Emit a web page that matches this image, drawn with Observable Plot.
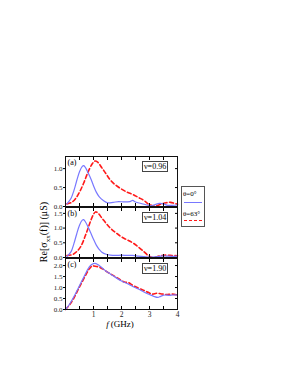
<!DOCTYPE html>
<html><head><meta charset="utf-8">
<script src="https://cdn.jsdelivr.net/npm/d3@7"></script>
<script src="https://cdn.jsdelivr.net/npm/@observablehq/plot@0.6"></script>
<style>
body{margin:0;background:#fff;}
#chart{position:relative;width:283px;height:366px;font-family:"Liberation Serif",serif;color:#000;overflow:hidden;}
#chart svg{position:absolute;overflow:visible;}
.nu{position:absolute;border:1px solid #444;background:#fff;font-size:8px;line-height:9px;padding:0 1px;white-space:nowrap;}
.leg{position:absolute;border:1px solid #555;background:#fff;font-size:7px;line-height:7px;}
.ylab{position:absolute;white-space:nowrap;font-size:10px;transform:translate(-50%,-50%) rotate(-90deg);}
.xlab{position:absolute;white-space:nowrap;font-size:9px;transform:translate(-50%,-50%);}
</style></head>
<body><div id="chart"></div>
<script>
// Panel (a) nu=0.96
const fA0 = [0.05,0.2,0.3,0.4,0.5,0.6,0.65,0.72,0.8,0.9,1.0,1.1,1.2,1.35,1.5,1.7,1.9,2.1,2.3,2.4,2.5,2.7,2.9,3.05,3.2,3.35,3.5,3.65,3.8,4.0];
const vA0 = [0.07,0.22,0.42,0.68,0.92,1.06,1.08,1.02,0.9,0.74,0.55,0.38,0.26,0.16,0.1,0.11,0.13,0.12,0.13,0.16,0.12,0.08,0.04,0.02,0.05,0.08,0.07,0.03,0.03,0.04];
const fA63 = [0.05,0.2,0.35,0.5,0.65,0.8,0.95,1.05,1.15,1.3,1.45,1.6,1.8,2.0,2.2,2.4,2.6,2.8,2.95,3.1,3.25,3.4,3.6,3.75,3.9,4.0];
const vA63 = [0.07,0.1,0.2,0.38,0.62,0.9,1.12,1.2,1.17,1.02,0.86,0.7,0.56,0.46,0.38,0.32,0.24,0.16,0.07,0.02,0.02,0.06,0.1,0.11,0.08,0.06];
// Panel (b) nu=1.04
const fB0 = [0.05,0.2,0.3,0.4,0.5,0.6,0.65,0.72,0.8,0.9,1.0,1.1,1.2,1.3,1.45,1.6,1.8,2.0,2.2,2.4,2.6,2.8,3.0,3.2,3.4,3.6,3.8,4.0];
const vB0 = [0.03,0.2,0.47,0.8,1.1,1.27,1.29,1.2,1.05,0.84,0.62,0.42,0.28,0.18,0.11,0.08,0.07,0.08,0.07,0.07,0.05,0.03,0.01,0.02,0.05,0.05,0.04,0.05];
const fB63 = [0.05,0.25,0.4,0.55,0.7,0.8,0.9,1.0,1.07,1.15,1.3,1.45,1.6,1.8,2.0,2.2,2.4,2.6,2.8,2.95,3.1,3.25,3.4,3.6,3.8,4.0];
const vB63 = [0.07,0.1,0.2,0.38,0.72,0.98,1.25,1.47,1.55,1.52,1.34,1.16,1.0,0.84,0.7,0.6,0.5,0.36,0.2,0.07,0.0,0.02,0.06,0.08,0.07,0.06];
// Panel (c) nu=1.90
const fC0 = [0.0,0.15,0.3,0.45,0.6,0.75,0.85,0.95,1.05,1.15,1.3,1.45,1.6,1.8,2.0,2.2,2.4,2.6,2.8,3.0,3.15,3.3,3.4,3.55,3.7,3.85,4.0];
const vC0 = [0.0,0.25,0.58,0.95,1.34,1.72,1.94,2.06,2.1,2.05,1.9,1.74,1.62,1.45,1.3,1.18,1.05,0.93,0.8,0.68,0.6,0.55,0.6,0.66,0.64,0.66,0.66];
const fC63 = [0.0,0.15,0.3,0.45,0.6,0.75,0.85,0.95,1.05,1.2,1.35,1.5,1.7,1.9,2.1,2.25,2.4,2.6,2.8,2.95,3.1,3.25,3.4,3.6,3.8,4.0];
const vC63 = [0.0,0.22,0.52,0.9,1.27,1.63,1.85,1.98,1.97,1.93,1.83,1.7,1.55,1.4,1.25,1.22,1.1,0.98,0.87,0.78,0.7,0.74,0.72,0.68,0.7,0.66];

const panelTags = ["(a)","(b)","(c)"];
const nuLabels = ["ν=0.96","ν=1.04","ν=1.90"];
const yMax = [1.32, 1.70, 2.32];
const yTicksA = [0,0.5,1.0];
const yTicksB = [0,0.5,1.0,1.5];
const yTicksC = [0,0.5,1.0,1.5,2.0];
const xTicks = [1,2,3,4];
const xMinor = [0.5,1,1.5,2,2.5,3,3.5];
const legendLabels = ["θ=0°","θ=63°"];
const xLabelText = "(GHz)";

const chart = document.getElementById("chart");
const zip = (f,v) => f.map((x,i)=>({f:x, v:v[i]}));
const W = 147, ML = 30, MR = 5, MT = 5;

function panel(i, b0, b63, yticks, top, mb, bottomLabels){
  const marks = [
    Plot.line(b63, {x:"f", y:"v", stroke:"#ff1a1a", strokeWidth:1.6, strokeDasharray:"4,2.6", curve:"catmull-rom"}),
    Plot.line(b0, {x:"f", y:"v", stroke:"#7878ff", strokeWidth:1.2, curve:"catmull-rom"}),
    Plot.axisY({ticks:yticks, tickFormat:d3.format(".1f"), tickSize:2, tickPadding:1, label:null, fontSize:7, fill:"#222"}),
    Plot.axisY({anchor:"right", ticks:yticks, tickSize:-3, fill:"none", label:null}),
    Plot.axisX({anchor:"top", ticks:xMinor, tickSize:-3, fill:"none", label:null}),
    Plot.axisX({anchor:"bottom", ticks:xMinor, tickSize:-3, fill:"none", label:null}),
    Plot.frame({stroke:"#111"}),
    Plot.text([panelTags[i]], {text:d=>d, frameAnchor:"top-left", dx:2, dy:3, fontSize:8, textAnchor:"start", lineAnchor:"top"})
  ];
  if (bottomLabels) marks.push(Plot.axisX({anchor:"bottom", ticks:xTicks, tickFormat:d3.format("d"), tickSize:0, tickPadding:2, label:null, fontSize:7.5, fill:"#222"}));
  const h = (top.h) + MT + mb;
  const svg = Plot.plot({
    width:W, height:h, marginLeft:ML, marginRight:MR, marginTop:MT, marginBottom:mb,
    style:{fontFamily:"Liberation Serif", fontSize:"7.5px", overflow:"visible", background:"transparent"},
    x:{domain:[0,4], axis:null},
    y:{domain:[0,yMax[i]], axis:null},
    marks
  });
  svg.style.left = (65-ML)+"px";
  svg.style.top = (top.y-MT)+"px";
  chart.appendChild(svg);
  const nu = document.createElement("div");
  nu.className = "nu";
  nu.textContent = nuLabels[i];
  nu.style.left = "142px";
  nu.style.top = (top.y+5)+"px";
  chart.appendChild(nu);
}

panel(0, zip(fA0,vA0), zip(fA63,vA63), yTicksA, {y:156,h:50}, 5, false);
panel(1, zip(fB0,vB0), zip(fB63,vB63), yTicksB, {y:207,h:50}, 5, false);
panel(2, zip(fC0,vC0), zip(fC63,vC63), yTicksC, {y:258,h:51}, 20, true);

// y label
const yl = document.createElement("div");
yl.className = "ylab";
yl.innerHTML = "Re[σ<sub style='font-size:7px'>xx</sub>(f)] (μS)";
yl.style.left = "45px"; yl.style.top = "232px";
chart.appendChild(yl);
// x label
const xl = document.createElement("div");
xl.className = "xlab";
xl.innerHTML = "<i>f</i>&thinsp;" + xLabelText;
xl.style.left = "120px"; xl.style.top = "324px";
chart.appendChild(xl);
// legend
const leg = document.createElement("div");
leg.className = "leg";
leg.style.left = "181px"; leg.style.top = "186px"; leg.style.width = "22px"; leg.style.height = "39px";
leg.innerHTML =
  `<div style="position:absolute;left:1px;top:4px">${legendLabels[0]}</div>
   <div style="position:absolute;left:2px;top:15px;width:18px;border-top:1.2px solid #7878ff"></div>
   <div style="position:absolute;left:1px;top:24px">${legendLabels[1]}</div>
   <div style="position:absolute;left:2px;top:33px;width:18px;border-top:1.6px dashed #ff1a1a"></div>`;
chart.appendChild(leg);
</script>
</body></html>
